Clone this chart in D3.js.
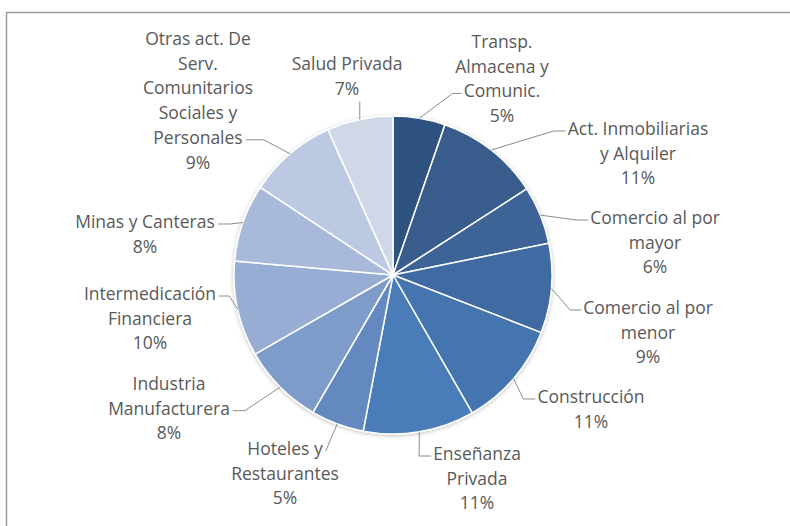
<!DOCTYPE html>
<html>
<head>
<meta charset="utf-8">
<script src="https://cdn.jsdelivr.net/npm/d3@7"></script>
<style>
  body { margin: 0; background: #fff; }
  svg { display: block; }
  .label text { font-family: "Open Sans", Lato, sans-serif; font-size: 17.5px; fill: #595959; }
</style>
</head>
<body>
<svg id="chart"></svg>
<script>
// sectors, clockwise from 12 o'clock
const sectors = [
  "Transp. Almacena y Comunic.",
  "Act. Inmobiliarias y Alquiler",
  "Comercio al por mayor",
  "Comercio al por menor",
  "Construcción",
  "Enseñanza Privada",
  "Hoteles y Restaurantes",
  "Industria Manufacturera",
  "Intermedicación Financiera",
  "Minas y Canteras",
  "Otras act. De Serv. Comunitarios Sociales y Personales",
  "Salud Privada"
];
const shares = [5.3, 10.6, 5.9, 9.1, 10.8, 11.3, 5.4, 8.3, 9.7, 7.9, 9.0, 6.7];
const labelLines = [
  ["Transp.", "Almacena y", "Comunic."],
  ["Act. Inmobiliarias", "y Alquiler"],
  ["Comercio al por", "mayor"],
  ["Comercio al por", "menor"],
  ["Construcción"],
  ["Enseñanza", "Privada"],
  ["Hoteles y", "Restaurantes"],
  ["Industria", "Manufacturera"],
  ["Intermedicación", "Financiera"],
  ["Minas y Canteras"],
  ["Otras act. De", "Serv.", "Comunitarios", "Sociales y", "Personales"],
  ["Salud Privada"]
];
const colors = ["#2f5280", "#375d8c", "#3c6497", "#416ba2", "#4574ae", "#4a7cb9",
                "#6489c0", "#7e9cca", "#97add3", "#a9b9d9", "#bcc9e2", "#d0d8e8"];

// label placement: block centre x, first baseline y, side the leader joins, line it joins, tail length
const labelLayout = [
  {x: 502, y: 48,  side: "left",   line: 2, tail: 9},
  {x: 638, y: 135, side: "left",   line: 0, tail: 12},
  {x: 655, y: 224, side: "left",   line: 0, tail: 12},
  {x: 648, y: 314, side: "left",   line: 0, tail: 11},
  {x: 591, y: 403, side: "left",   line: 0, tail: 12},
  {x: 477, y: 460, side: "left",   line: 0, tail: 12},
  {x: 285, y: 455, side: "right",  line: 0, tail: 0},
  {x: 169, y: 390, side: "right",  line: 1, tail: 12},
  {x: 150, y: 300, side: "right",  line: 0, tail: 10},
  {x: 145, y: 228, side: "right",  line: 0, tail: 12},
  {x: 198, y: 45,  side: "right",  line: 4, tail: 18},
  {x: 347, y: 70,  side: "bottom", line: 1, tail: 0}
];

const width = 790, height = 526;
const radius = 159;
const cx = 393, cy = 275;
const lineH = 24.7;

const svg = d3.select("#chart").attr("width", width).attr("height", height);

// chart frame (cut off at right and bottom)
svg.append("rect")
  .attr("x", 6.5).attr("y", 12.5)
  .attr("width", width + 20).attr("height", height + 20)
  .attr("fill", "none").attr("stroke", "#9a9a9a").attr("stroke-width", 1.5);

const defs = svg.append("defs");
const shadow = defs.append("filter").attr("id", "shadow")
  .attr("x", "-10%").attr("y", "-10%").attr("width", "120%").attr("height", "120%");
shadow.append("feGaussianBlur").attr("in", "SourceAlpha").attr("stdDeviation", 2);
shadow.append("feOffset").attr("dx", 0).attr("dy", 1).attr("result", "blur");
shadow.append("feComponentTransfer").append("feFuncA").attr("type", "linear").attr("slope", 0.25);
const merge = shadow.append("feMerge");
merge.append("feMergeNode");
merge.append("feMergeNode").attr("in", "SourceGraphic");

const data = sectors.map((s, i) => ({name: s, value: shares[i], lines: labelLines[i], i: i}));
const total = d3.sum(shares);
const pct = d3.format(".0%");

const pie = d3.pie().sort(null).value(d => d.value);
const arcs = pie(data);

const arc = d3.arc().innerRadius(0).outerRadius(radius);
const edgeArc = d3.arc().innerRadius(radius).outerRadius(radius);

const color = d3.scaleOrdinal().domain(sectors).range(colors);

const plot = svg.append("g").attr("transform", "translate(" + cx + "," + cy + ")");

plot.append("g").attr("filter", "url(#shadow)")
  .selectAll("path")
  .data(arcs).enter()
  .append("path")
  .attr("d", arc)
  .attr("fill", d => color(d.data.name))
  .attr("stroke", "#fff")
  .attr("stroke-width", 1.5)
  .attr("stroke-linejoin", "round");

// labels
const labels = svg.append("g").attr("class", "label")
  .selectAll("g")
  .data(arcs).enter()
  .append("g");

labels.each(function (d) {
  const g = d3.select(this);
  const lay = labelLayout[d.data.i];
  const rows = d.data.lines.concat([pct(d.data.value / total)]);
  const text = g.append("text").attr("text-anchor", "middle");
  const spans = text.selectAll("tspan").data(rows).enter()
    .append("tspan")
    .attr("x", lay.x)
    .attr("y", (r, k) => lay.y + k * lineH)
    .text(r => r);

  const e = edgeArc.centroid(d);
  const start = [cx + e[0], cy + e[1]];
  let pts;
  if (lay.side === "bottom") {
    const bottom = lay.y + (rows.length - 1) * lineH + 7;
    pts = [start, [start[0], bottom]];
  } else {
    const node = spans.nodes()[lay.line];
    const w = node.getComputedTextLength();
    const ly = lay.y + lay.line * lineH - 4;
    if (lay.side === "left") {
      const end = lay.x - w / 2 - 2;
      pts = [start, [end - lay.tail, ly], [end, ly]];
    } else {
      const end = lay.x + w / 2 + 3;
      pts = [start, [end + lay.tail, ly], [end, ly]];
    }
  }
  svg.insert("path", ".label")
    .attr("d", d3.line()(pts))
    .attr("fill", "none")
    .attr("stroke", "#8c8c8c")
    .attr("stroke-width", 1);
});
</script>
</body>
</html>
